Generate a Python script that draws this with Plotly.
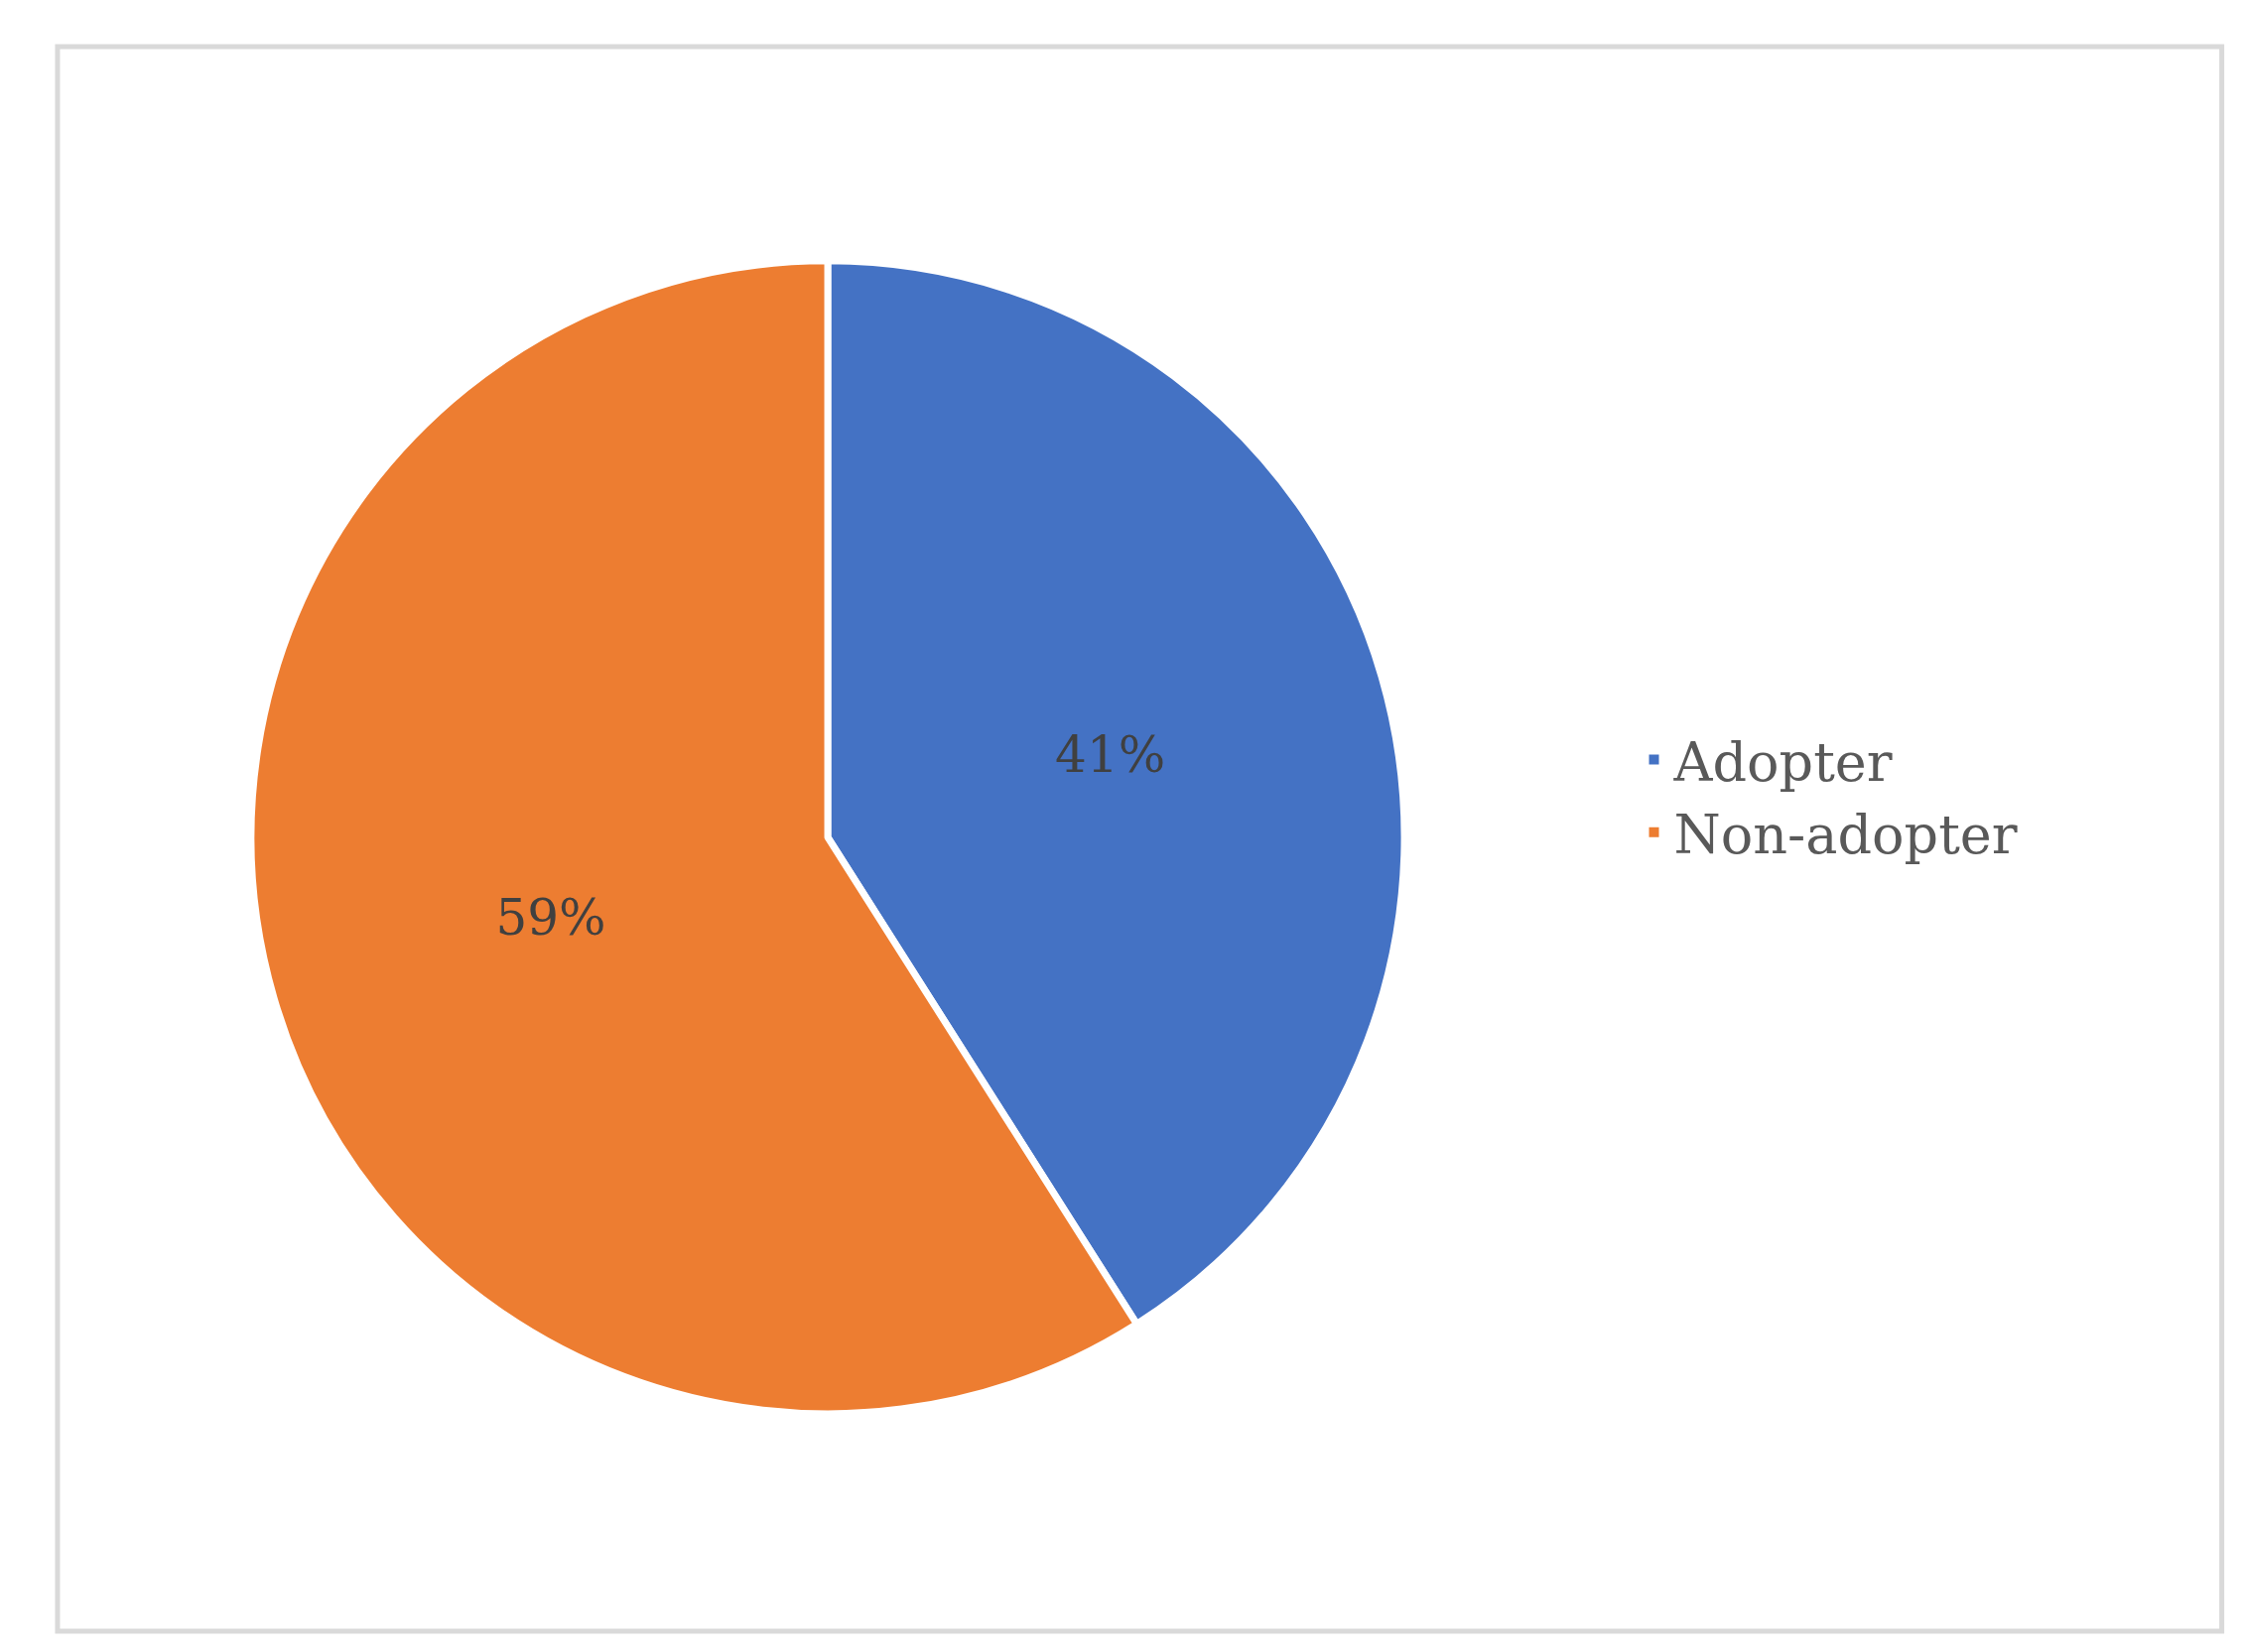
import plotly.graph_objects as go

labels = ["Adopter", "Non-adopter"]
values = [41, 59]
colors = ["#4472C4", "#ED7D31"]

fig = go.Figure(go.Pie(
    labels=labels, values=values, sort=False, direction="clockwise", rotation=0,
    marker=dict(colors=colors, line=dict(color="white", width=7)),
    textinfo="percent", textposition="inside", insidetextorientation="horizontal",
    textfont=dict(family="DejaVu Serif", size=50, color="#404040"),
    domain=dict(x=[0.1084, 0.6226], y=[0.149, 0.847]),
    hoverinfo="label+percent",
))
fig.update_layout(
    width=2260, height=1665, paper_bgcolor="white", plot_bgcolor="white",
    margin=dict(l=0, r=0, t=0, b=0),
    legend=dict(x=0.725, y=0.57, xanchor="left", yanchor="top",
                font=dict(family="DejaVu Serif", size=54, color="#595959"),
                itemsizing="constant", tracegroupgap=40),
    shapes=[dict(type="rect", xref="paper", yref="paper", x0=0.0221, x1=0.987,
                 y0=0.0174, y1=0.9766, line=dict(color="#D9D9D9", width=5))],
)
fig.write_html("out.html")
